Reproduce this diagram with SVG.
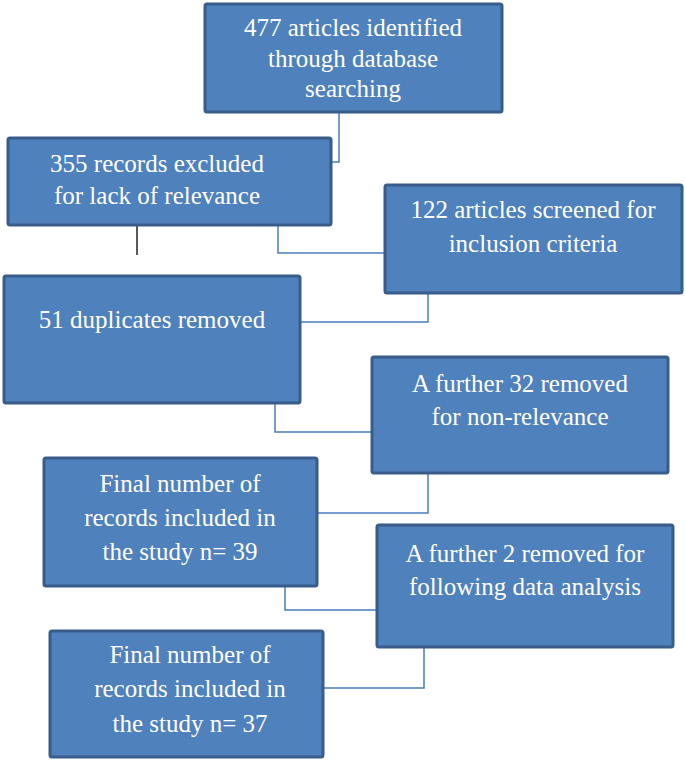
<svg xmlns="http://www.w3.org/2000/svg" width="685" height="761" viewBox="0 0 685 761">
<style>
.box{fill:#4F81BD;stroke:#385D8A;stroke-width:3}
.t{font-family:"Liberation Serif","Times New Roman",serif;font-size:25px;fill:#FFFFFF;text-anchor:middle}
.c{fill:none;stroke:#4A7EBB;stroke-width:1.5}
</style>
<rect width="685" height="761" fill="#FFFFFF"/>
<g id="connectors">
<polyline class="c" points="339,112 339,162 331,162"/>
<polyline class="c" points="278,225 278,253 385,253"/>
<polyline class="c" points="428,293 428,322 300,322"/>
<polyline class="c" points="275,403 275,432 372,432"/>
<polyline class="c" points="428,473 428,513 317,513"/>
<polyline class="c" points="285,586 285,610 377,610"/>
<polyline class="c" points="424,647 424,688 323,688"/>
<line x1="137" y1="225" x2="137" y2="255" stroke="#222222" stroke-width="1.5"/>
</g>
<g id="n1">
<rect class="box" x="205" y="4" width="297" height="108" rx="2"/>
<text class="t" x="353" y="36">477 articles identified</text>
<text class="t" x="353" y="67">through database</text>
<text class="t" x="353" y="97">searching</text>
</g>
<g id="n2">
<rect class="box" x="8" y="138" width="323" height="87" rx="2"/>
<text class="t" x="157" y="172">355 records excluded</text>
<text class="t" x="157" y="204">for lack of relevance</text>
</g>
<g id="n3">
<rect class="box" x="385" y="185" width="297" height="108" rx="2"/>
<text class="t" x="533" y="218">122 articles screened for</text>
<text class="t" x="533" y="252">inclusion criteria</text>
</g>
<g id="n4">
<rect class="box" x="4" y="276" width="296" height="127" rx="2"/>
<text class="t" x="152" y="328">51 duplicates removed</text>
</g>
<g id="n5">
<rect class="box" x="372" y="357" width="296" height="116" rx="2"/>
<text class="t" x="520" y="392">A further 32 removed</text>
<text class="t" x="520" y="425">for non-relevance</text>
</g>
<g id="n6">
<rect class="box" x="44" y="458" width="273" height="128" rx="2"/>
<text class="t" x="180" y="492">Final number of</text>
<text class="t" x="180" y="526">records included in</text>
<text class="t" x="180" y="560">the study n= 39</text>
</g>
<g id="n7">
<rect class="box" x="377" y="525" width="296" height="122" rx="2"/>
<text class="t" x="525" y="562">A further 2 removed for</text>
<text class="t" x="525" y="595">following data analysis</text>
</g>
<g id="n8">
<rect class="box" x="50" y="631" width="273" height="126" rx="2"/>
<text class="t" x="190" y="663">Final number of</text>
<text class="t" x="190" y="697">records included in</text>
<text class="t" x="190" y="732">the study n= 37</text>
</g>
</svg>
